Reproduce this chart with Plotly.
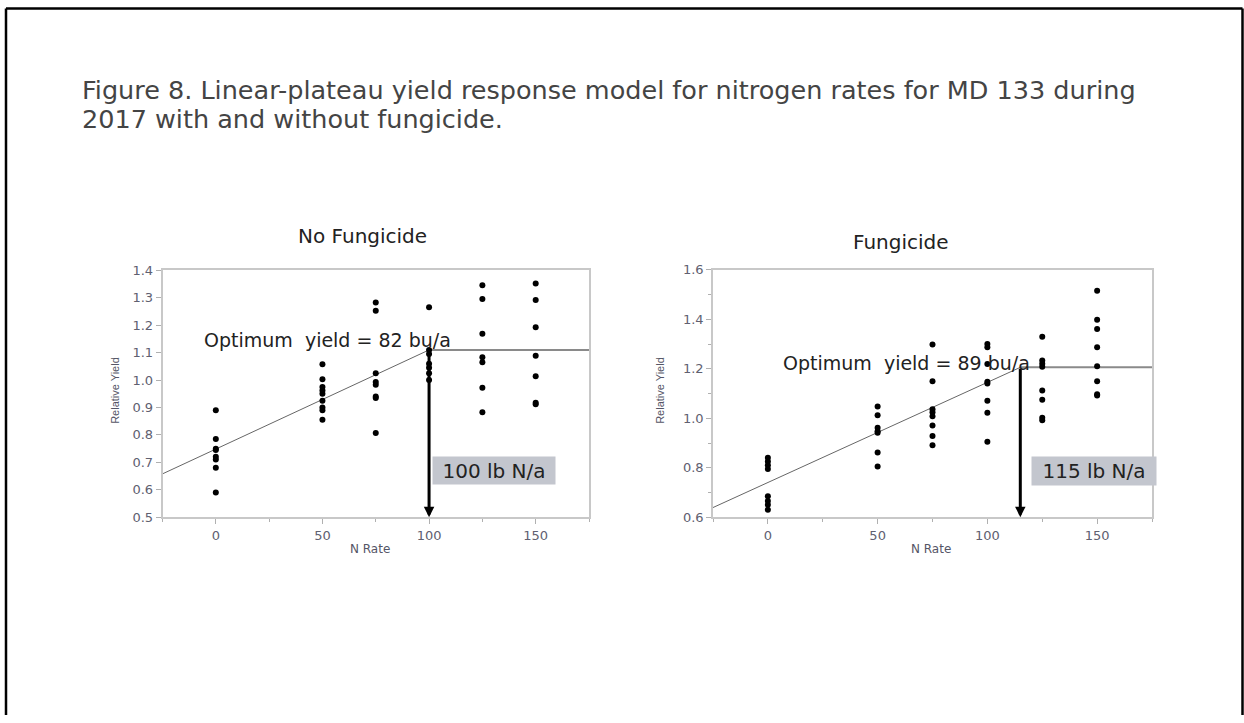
import plotly.graph_objects as go

# ---------------- data ----------------
rates = [0, 50, 75, 100, 125, 150]

nf_yield = {
    0:   [0.89, 0.785, 0.75, 0.745, 0.72, 0.71, 0.68, 0.59],
    50:  [1.058, 1.003, 0.975, 0.962, 0.95, 0.925, 0.90, 0.89, 0.855],
    75:  [1.283, 1.253, 1.025, 0.993, 0.983, 0.94, 0.935, 0.807],
    100: [1.266, 1.11, 1.095, 1.06, 1.045, 1.025, 1.0],
    125: [1.346, 1.296, 1.169, 1.083, 1.065, 0.972, 0.883],
    150: [1.352, 1.292, 1.193, 1.089, 1.014, 0.917, 0.912],
}
f_yield = {
    0:   [0.84, 0.825, 0.81, 0.795, 0.685, 0.665, 0.65, 0.63],
    50:  [1.048, 1.012, 0.962, 0.948, 0.942, 0.862, 0.805],
    75:  [1.298, 1.15, 1.037, 1.024, 1.008, 0.971, 0.928, 0.891],
    100: [1.30, 1.287, 1.22, 1.148, 1.141, 1.071, 1.022, 0.905],
    125: [1.33, 1.234, 1.221, 1.208, 1.112, 1.075, 1.002, 0.992],
    150: [1.516, 1.399, 1.361, 1.287, 1.21, 1.15, 1.097, 1.092],
}

# linear-plateau fits (vertices)
nf_slope_x = [-25, 100]
nf_slope_y = [0.658, 1.11]
nf_plat_x = [100, 175]
nf_plat_y = [1.11, 1.11]

f_slope_x = [-25, 115]
f_slope_y = [0.639, 1.206]
f_plat_x = [115, 175]
f_plat_y = [1.206, 1.206]

nf_opt_rate, nf_opt_y, nf_ymin = 100, 1.11, 0.5
f_opt_rate, f_opt_y, f_ymin = 115, 1.206, 0.6

nf_label = "Optimum  yield = 82 bu/a"
f_label = "Optimum  yield = 89 bu/a"
nf_rate_label = "100 lb N/a"
f_rate_label = "115 lb N/a"

title_line1 = "Figure 8. Linear-plateau yield response model for nitrogen rates for MD 133 during"
title_line2 = "2017 with and without fungicide."

# ---------------- helpers ----------------
W, H = 1244, 723
def px(x):
    return x / W
def py(y):
    return 1 - y / H

FONT = "DejaVu Sans"

def flatten(d):
    xs, ys = [], []
    for r in rates:
        for v in d[r]:
            xs.append(r)
            ys.append(v)
    return xs, ys

fig = go.Figure()

nx, ny = flatten(nf_yield)
fx, fy = flatten(f_yield)

for (sx, sy, plx, ply, xs, ys, xa, ya) in [
    (nf_slope_x, nf_slope_y, nf_plat_x, nf_plat_y, nx, ny, "x", "y"),
    (f_slope_x, f_slope_y, f_plat_x, f_plat_y, fx, fy, "x2", "y2"),
]:
    fig.add_trace(go.Scatter(x=sx, y=sy, mode="lines", xaxis=xa, yaxis=ya,
                             line=dict(color="#666666", width=1), showlegend=False))
    fig.add_trace(go.Scatter(x=plx, y=ply, mode="lines", xaxis=xa, yaxis=ya,
                             line=dict(color="#8a8a8a", width=2), showlegend=False))
    fig.add_trace(go.Scatter(x=xs, y=ys, mode="markers", xaxis=xa, yaxis=ya,
                             marker=dict(color="black", size=6), showlegend=False))

axis_common = dict(
    showgrid=False, zeroline=False, showline=True, mirror=True,
    linecolor="#c8c8c8", linewidth=1.5,
    ticks="outside", ticklen=5, tickcolor="#b0b0b0",
    tickfont=dict(family=FONT, size=13, color="#606070"),
)

fig.update_layout(
    width=W, height=H,
    margin=dict(l=0, r=0, t=0, b=0),
    paper_bgcolor="white", plot_bgcolor="white",
    xaxis=dict(domain=[px(162.5), px(589)], range=[-25, 175], anchor="y",
               tick0=0, dtick=50, minor=dict(dtick=25, ticklen=3, tickcolor="#b0b0b0", ticks="outside"),
               **axis_common),
    yaxis=dict(domain=[py(521), py(269)], range=[0.5, 1.4], anchor="x",
               dtick=0.1, tickformat=".1f", **axis_common),
    xaxis2=dict(domain=[px(713), px(1152)], range=[-25, 175], anchor="y2",
                tick0=0, dtick=50, minor=dict(dtick=25, ticklen=3, tickcolor="#b0b0b0", ticks="outside"),
                **axis_common),
    yaxis2=dict(domain=[py(521), py(268.5)], range=[0.6, 1.6], anchor="x2",
                dtick=0.2, tickformat=".1f",
                minor=dict(dtick=0.1, ticklen=3, tickcolor="#b0b0b0", ticks="outside"),
                **axis_common),
)

ann = []
# arrows
for (xr, yr, rate, top, bottom) in [("x", "y", nf_opt_rate, nf_opt_y, nf_ymin),
                                     ("x2", "y2", f_opt_rate, f_opt_y, f_ymin)]:
    ann.append(dict(x=rate, y=bottom, ax=rate, ay=top, xref=xr, yref=yr,
                    axref=xr, ayref=yr, text="", showarrow=True,
                    arrowhead=2, arrowsize=0.7, arrowwidth=3, arrowcolor="black"))

# optimum yield labels
ann.append(dict(x=-6.4, y=1.146, xref="x", yref="y", text=nf_label, showarrow=False,
                xanchor="left", yanchor="middle",
                font=dict(family=FONT, size=19, color="#222222")))
ann.append(dict(x=6, y=1.225, xref="x2", yref="y2", text=f_label, showarrow=False,
                xanchor="left", yanchor="middle",
                font=dict(family=FONT, size=19, color="#222222")))

# rate boxes
ann.append(dict(x=px(494), y=py(473.5), xref="paper", yref="paper", text=nf_rate_label,
                showarrow=False, width=120, height=25, bgcolor="#c3c6ce",
                font=dict(family=FONT, size=20, color="#222222"),
                xanchor="center", yanchor="middle"))
ann.append(dict(x=px(1094), y=py(474), xref="paper", yref="paper", text=f_rate_label,
                showarrow=False, width=122, height=26, bgcolor="#c3c6ce",
                font=dict(family=FONT, size=20, color="#222222"),
                xanchor="center", yanchor="middle"))

# subplot titles
ann.append(dict(x=px(362), y=py(234), xref="paper", yref="paper", text="No Fungicide",
                showarrow=False, xanchor="center", yanchor="middle",
                font=dict(family=FONT, size=20, color="#222222")))
ann.append(dict(x=px(901), y=py(240), xref="paper", yref="paper", text="Fungicide",
                showarrow=False, xanchor="center", yanchor="middle",
                font=dict(family=FONT, size=20, color="#222222")))

# axis titles
for cx in (370, 931):
    ann.append(dict(x=px(cx), y=py(553), xref="paper", yref="paper", text="N Rate",
                    showarrow=False, xanchor="center", yanchor="middle",
                    font=dict(family=FONT, size=12, color="#555566")))
for cx, cy in ((115, 392), (660, 392)):
    ann.append(dict(x=px(cx), y=py(cy), xref="paper", yref="paper", text="Relative Yield",
                    showarrow=False, xanchor="center", yanchor="middle", textangle=-90,
                    font=dict(family="Liberation Sans", size=11, color="#555566")))

# main title
ann.append(dict(x=px(80), y=py(85), xref="paper", yref="paper", text=title_line1,
                showarrow=False, xanchor="left", yanchor="middle",
                font=dict(family=FONT, size=25.5, color="#444444")))
ann.append(dict(x=px(80), y=py(114), xref="paper", yref="paper", text=title_line2,
                showarrow=False, xanchor="left", yanchor="middle",
                font=dict(family=FONT, size=25.5, color="#444444")))

fig.update_layout(annotations=ann)

# page frame
shapes = [
    dict(type="line", xref="paper", yref="paper", x0=px(6), x1=px(6), y0=0, y1=py(1.5),
         line=dict(color="black", width=2.5)),
    dict(type="line", xref="paper", yref="paper", x0=px(6), x1=px(1242.5), y0=py(1.5), y1=py(1.5),
         line=dict(color="black", width=2.5)),
    dict(type="line", xref="paper", yref="paper", x0=px(1242.5), x1=px(1242.5), y0=0, y1=py(1.5),
         line=dict(color="black", width=2.5)),
]
fig.update_layout(shapes=shapes)

fig.write_html("out.html")
